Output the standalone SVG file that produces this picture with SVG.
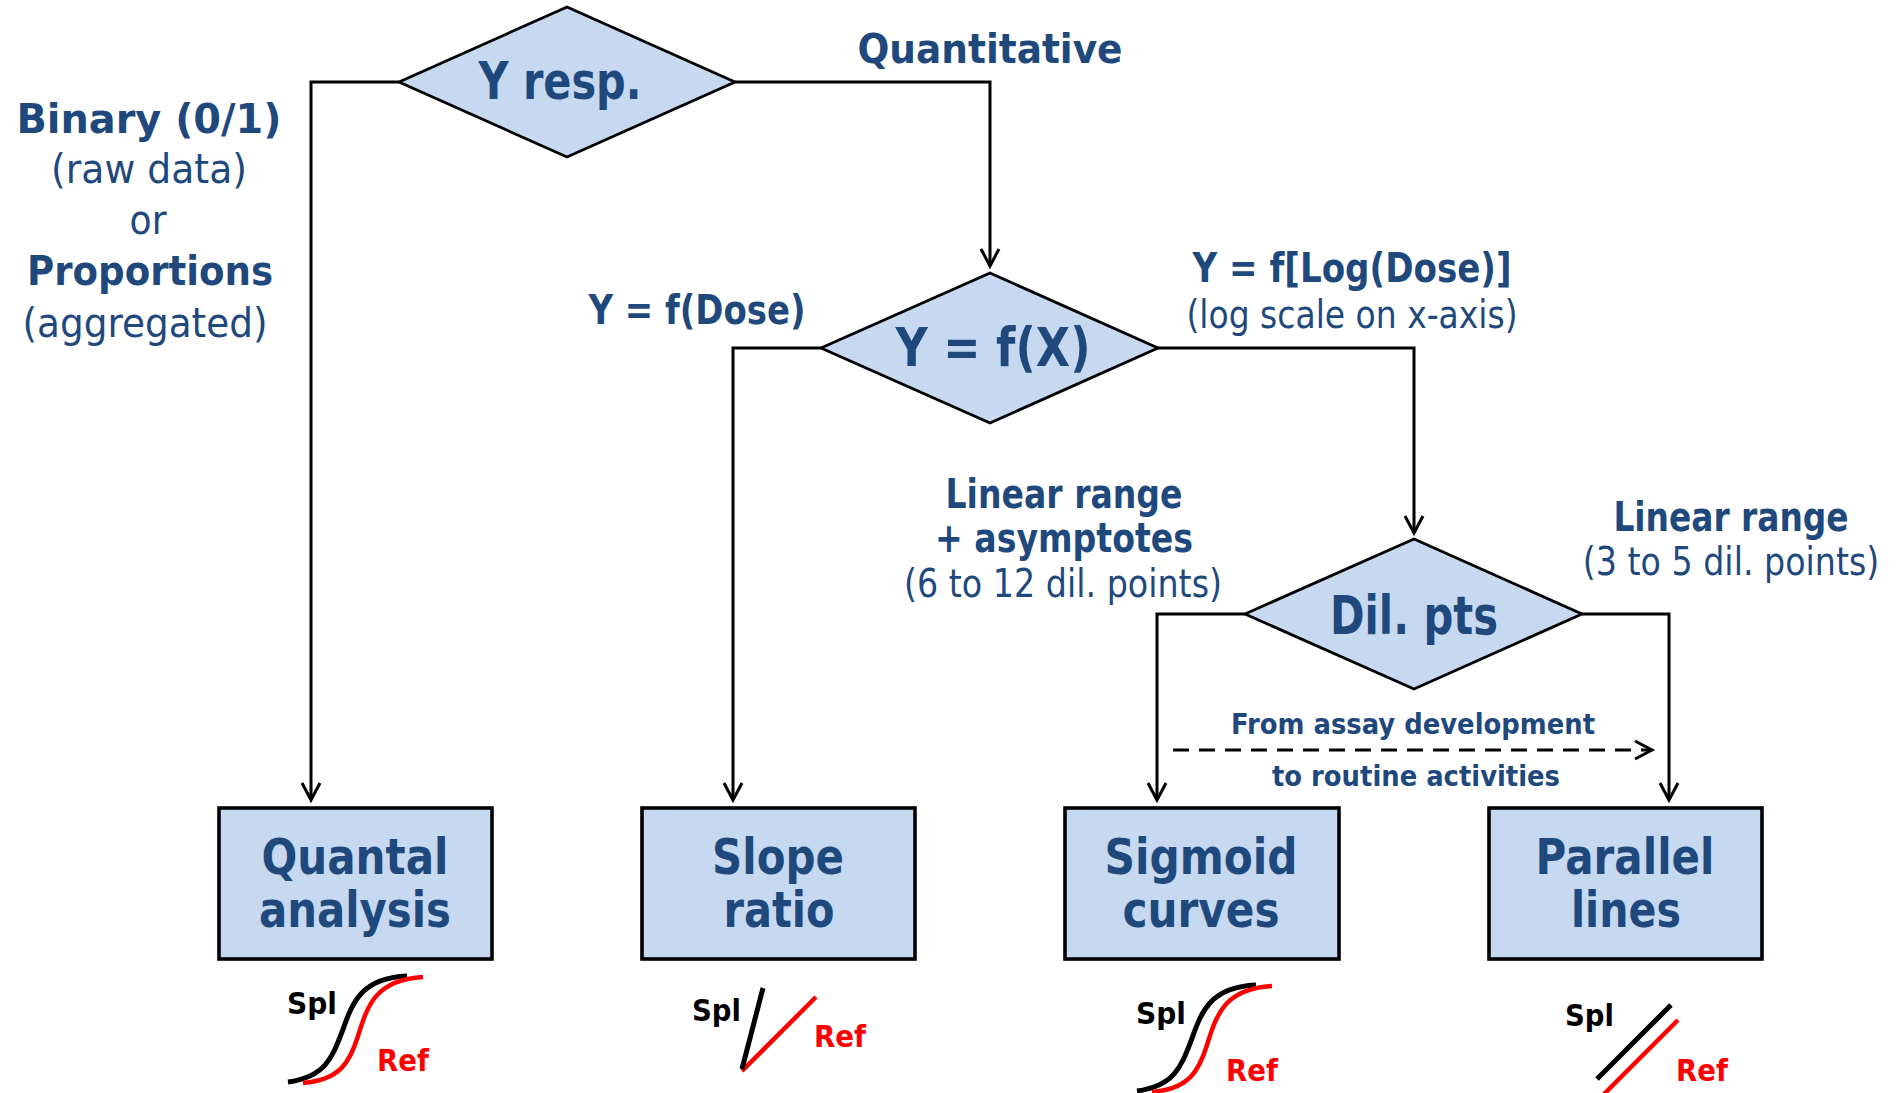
<svg xmlns="http://www.w3.org/2000/svg" width="1896" height="1093" viewBox="0 0 1896 1093">
<style>
.t{font-family:"DejaVu Sans",Verdana,sans-serif;fill:#1F497D;text-anchor:middle}
.b{font-weight:bold}
.dec{fill:#C6D9F1;stroke:#000;stroke-width:2.8}
.box{fill:#C6D9F1;stroke:#000;stroke-width:3.6}
.con{fill:none;stroke:#000;stroke-width:3}
.dash{fill:none;stroke:#000;stroke-width:3;stroke-dasharray:16 10}
.ic{font-family:"DejaVu Sans",Verdana,sans-serif;font-weight:bold;font-size:31px}
.k{fill:none;stroke:#000;stroke-width:5}
.r{fill:none;stroke:#FF0000;stroke-width:4.5}
</style>
<defs>
<marker id="arr" markerUnits="userSpaceOnUse" markerWidth="24" markerHeight="24" viewBox="0 0 24 24" refX="20" refY="12" orient="auto">
<path d="M3,3 L20,12 L3,21" fill="none" stroke="#000" stroke-width="3"/>
</marker>
</defs>
<rect width="1896" height="1093" fill="#fff"/>

<g id="connectors">
<path class="con" d="M399,82 H311 V800" marker-end="url(#arr)"/>
<path class="con" d="M735,82 H990 V266" marker-end="url(#arr)"/>
<path class="con" d="M821,348 H733 V800" marker-end="url(#arr)"/>
<path class="con" d="M1158,348 H1414 V533" marker-end="url(#arr)"/>
<path class="con" d="M1245,614 H1157 V800" marker-end="url(#arr)"/>
<path class="con" d="M1582,614 H1669 V800" marker-end="url(#arr)"/>
<path class="dash" d="M1173,750 H1652" marker-end="url(#arr)"/>
</g>

<g id="labels">
<text class="t b" x="990" y="63" font-size="41" textLength="265" lengthAdjust="spacingAndGlyphs">Quantitative</text>
<text class="t b" x="149" y="133" font-size="40" textLength="265" lengthAdjust="spacingAndGlyphs">Binary (0/1)</text>
<text class="t" x="149" y="183" font-size="40" textLength="196" lengthAdjust="spacingAndGlyphs">(raw data)</text>
<text class="t" x="148" y="234" font-size="40" textLength="37" lengthAdjust="spacingAndGlyphs">or</text>
<text class="t b" x="150" y="285" font-size="40" textLength="246" lengthAdjust="spacingAndGlyphs">Proportions</text>
<text class="t" x="145" y="337" font-size="40" textLength="245" lengthAdjust="spacingAndGlyphs">(aggregated)</text>
<text class="t b" x="697" y="324" font-size="40" textLength="217" lengthAdjust="spacingAndGlyphs">Y = f(Dose)</text>
<text class="t b" x="1352" y="282" font-size="40" textLength="319" lengthAdjust="spacingAndGlyphs">Y = f[Log(Dose)]</text>
<text class="t" x="1352" y="328" font-size="39" textLength="331" lengthAdjust="spacingAndGlyphs">(log scale on x-axis)</text>
<text class="t b" x="1064" y="508" font-size="40" textLength="237" lengthAdjust="spacingAndGlyphs">Linear range</text>
<text class="t b" x="1064" y="552" font-size="40" textLength="258" lengthAdjust="spacingAndGlyphs">+ asymptotes</text>
<text class="t" x="1063" y="597" font-size="39" textLength="318" lengthAdjust="spacingAndGlyphs">(6 to 12 dil. points)</text>
<text class="t b" x="0" y="0" font-size="40" transform="translate(1731,531) scale(0.8,1)" textLength="294" lengthAdjust="spacingAndGlyphs">Linear range</text>
<text class="t" x="0" y="0" font-size="39" transform="translate(1731,575) scale(0.85,1)" textLength="349" lengthAdjust="spacingAndGlyphs">(3 to 5 dil. points)</text>
<text class="t b" x="1413" y="734" font-size="29" textLength="364" lengthAdjust="spacingAndGlyphs">From assay development</text>
<text class="t b" x="1416" y="786" font-size="29" textLength="288" lengthAdjust="spacingAndGlyphs">to routine activities</text>
</g>

<g id="yresp">
<polygon class="dec" points="399,82 567,7 735,82 567,157"/>
<text class="t b" x="560" y="99" font-size="52" textLength="163" lengthAdjust="spacingAndGlyphs">Y resp.</text>
</g>
<g id="yfx">
<polygon class="dec" points="821,348 990,273 1158,348 990,423"/>
<text class="t b" x="993" y="366" font-size="53" textLength="195" lengthAdjust="spacingAndGlyphs">Y = f(X)</text>
</g>
<g id="dilpts">
<polygon class="dec" points="1245,614 1414,539 1582,614 1414,689"/>
<text class="t b" x="1414" y="634" font-size="53" textLength="168" lengthAdjust="spacingAndGlyphs">Dil. pts</text>
</g>

<g id="quantal">
<rect class="box" x="219" y="808" width="273" height="151"/>
<text class="t b" x="355" y="874" font-size="50" textLength="187" lengthAdjust="spacingAndGlyphs">Quantal</text>
<text class="t b" x="355" y="927" font-size="50" textLength="192" lengthAdjust="spacingAndGlyphs">analysis</text>
</g>
<g id="slope">
<rect class="box" x="642" y="808" width="273" height="151"/>
<text class="t b" x="778" y="874" font-size="50" textLength="132" lengthAdjust="spacingAndGlyphs">Slope</text>
<text class="t b" x="779" y="927" font-size="50" textLength="111" lengthAdjust="spacingAndGlyphs">ratio</text>
</g>
<g id="sigmoid">
<rect class="box" x="1065" y="808" width="274" height="151"/>
<text class="t b" x="1201" y="874" font-size="50" textLength="193" lengthAdjust="spacingAndGlyphs">Sigmoid</text>
<text class="t b" x="1201" y="927" font-size="50" textLength="157" lengthAdjust="spacingAndGlyphs">curves</text>
</g>
<g id="parallel">
<rect class="box" x="1489" y="808" width="273" height="151"/>
<text class="t b" x="1625" y="874" font-size="50" textLength="179" lengthAdjust="spacingAndGlyphs">Parallel</text>
<text class="t b" x="1626" y="927" font-size="50" textLength="110" lengthAdjust="spacingAndGlyphs">lines</text>
</g>

<g id="icon-quantal">
<path class="k" d="M288,1082 C325,1077 332,1058 342,1032 C352,1004 360,978 407,976"/>
<path class="r" d="M303,1083 C340,1080 350,1062 358,1036 C368,1004 376,980 423,977"/>
<text class="ic" x="287" y="1014" textLength="50" lengthAdjust="spacingAndGlyphs">Spl</text>
<text class="ic" x="377" y="1071" fill="#FF0000" textLength="52" lengthAdjust="spacingAndGlyphs">Ref</text>
</g>
<g id="icon-slope">
<path class="r" d="M742,1071 L816,997"/>
<path class="k" d="M742,1069 L763,988"/>
<text class="ic" x="692" y="1021" textLength="49" lengthAdjust="spacingAndGlyphs">Spl</text>
<text class="ic" x="814" y="1047" fill="#FF0000" textLength="52" lengthAdjust="spacingAndGlyphs">Ref</text>
</g>
<g id="icon-sigmoid">
<path class="k" d="M1137,1091 C1174,1086 1181,1067 1191,1041 C1201,1013 1209,987 1256,985"/>
<path class="r" d="M1152,1092 C1189,1089 1199,1071 1207,1045 C1217,1013 1225,989 1272,986"/>
<text class="ic" x="1136" y="1024" textLength="50" lengthAdjust="spacingAndGlyphs">Spl</text>
<text class="ic" x="1226" y="1081" fill="#FF0000" textLength="52" lengthAdjust="spacingAndGlyphs">Ref</text>
</g>
<g id="icon-parallel">
<path class="k" d="M1597,1079 L1671,1005"/>
<path class="r" d="M1604,1094 L1678,1020"/>
<text class="ic" x="1565" y="1026" textLength="49" lengthAdjust="spacingAndGlyphs">Spl</text>
<text class="ic" x="1676" y="1081" fill="#FF0000" textLength="52" lengthAdjust="spacingAndGlyphs">Ref</text>
</g>
</svg>
